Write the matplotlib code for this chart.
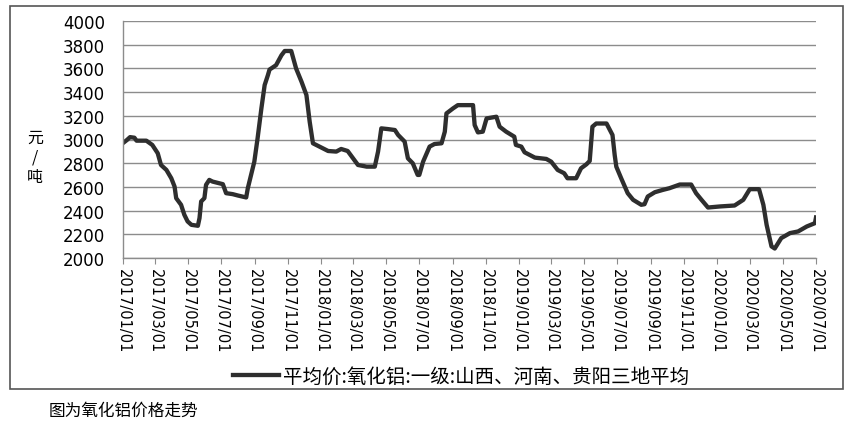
import numpy as np
import pandas as pd
import matplotlib
matplotlib.use("Agg")
import matplotlib.pyplot as plt
import matplotlib.dates as mdates
from matplotlib.patches import Rectangle

# 读图得到的数据点 (日期, 元/吨)
dates = [
    "2017-01-01", "2017-01-08", "2017-01-14", "2017-01-22", "2017-01-26", "2017-02-13",
    "2017-02-24", "2017-03-06", "2017-03-12", "2017-03-22", "2017-03-31", "2017-04-06",
    "2017-04-09", "2017-04-18", "2017-04-24", "2017-04-30", "2017-05-07", "2017-05-19",
    "2017-05-22", "2017-05-25", "2017-05-31", "2017-06-03", "2017-06-09", "2017-06-15",
    "2017-07-04", "2017-07-10", "2017-07-22", "2017-08-01", "2017-08-16", "2017-08-19",
    "2017-08-25", "2017-08-31", "2017-09-06", "2017-09-13", "2017-09-19", "2017-09-25",
    "2017-09-28", "2017-10-10", "2017-10-20", "2017-10-26", "2017-11-07", "2017-11-16",
    "2017-11-26", "2017-12-05", "2017-12-11", "2017-12-17", "2017-12-29", "2018-01-14",
    "2018-01-29", "2018-02-07", "2018-02-19", "2018-03-01", "2018-03-10", "2018-03-26",
    "2018-04-10", "2018-04-16", "2018-04-22", "2018-05-04", "2018-05-17", "2018-05-23",
    "2018-06-04", "2018-06-10", "2018-06-19", "2018-06-28", "2018-07-01", "2018-07-08",
    "2018-07-20", "2018-07-29", "2018-08-11", "2018-08-17", "2018-08-20", "2018-09-01",
    "2018-09-10", "2018-10-08", "2018-10-11", "2018-10-17", "2018-10-26", "2018-11-02",
    "2018-11-20", "2018-11-26", "2018-12-08", "2018-12-23", "2018-12-26", "2019-01-05",
    "2019-01-11", "2019-01-30", "2019-02-20", "2019-03-01", "2019-03-13", "2019-03-25",
    "2019-03-31", "2019-04-16", "2019-04-25", "2019-05-05", "2019-05-11", "2019-05-16",
    "2019-05-23", "2019-06-11", "2019-06-22", "2019-06-26", "2019-06-29", "2019-07-08",
    "2019-07-20", "2019-07-30", "2019-08-14", "2019-08-20", "2019-08-26", "2019-09-08",
    "2019-09-23", "2019-10-05", "2019-10-24", "2019-11-14", "2019-11-23", "2019-12-03",
    "2019-12-15", "2020-01-06", "2020-02-02", "2020-02-18", "2020-03-01", "2020-03-18",
    "2020-03-26", "2020-04-01", "2020-04-10", "2020-04-16", "2020-04-28", "2020-05-14",
    "2020-05-29", "2020-06-14", "2020-06-29", "2020-07-01",
]
prices = [
    2970, 2995, 3020, 3015, 2990, 2990,
    2954, 2884, 2785, 2743, 2673, 2603,
    2505, 2449, 2365, 2309, 2280, 2272,
    2337, 2477, 2505, 2617, 2659, 2645,
    2623, 2547, 2539, 2527, 2511, 2589,
    2701, 2813, 3010, 3262, 3459, 3543,
    3590, 3627, 3711, 3747, 3747, 3599,
    3487, 3375, 3150, 2968, 2940, 2903,
    2898, 2920, 2903, 2841, 2785, 2771,
    2771, 2898, 3094, 3088, 3080, 3038,
    2982, 2841, 2799, 2701, 2701, 2813,
    2940, 2962, 2968, 3066, 3220, 3262,
    3290, 3290, 3122, 3060, 3066, 3178,
    3192, 3108, 3066, 3024, 2954, 2940,
    2892, 2847, 2836, 2813, 2743, 2715,
    2673, 2673, 2757, 2791, 2819, 3108,
    3135, 3135, 3038, 2870, 2771, 2673,
    2547, 2491, 2449, 2454, 2519, 2555,
    2575, 2589, 2620, 2620, 2547, 2491,
    2426, 2435, 2443, 2491, 2581, 2581,
    2449, 2280, 2098, 2080, 2168, 2210,
    2224, 2266, 2294, 2342,
]
series_name = "平均价:氧化铝:一级:山西、河南、贵阳三地平均"
caption = "图为氧化铝价格走势"
y_ticks = [2000, 2200, 2400, 2600, 2800, 3000, 3200, 3400, 3600, 3800, 4000]

cjk = ["Noto Sans CJK SC", "DejaVu Sans"]

x = pd.to_datetime(dates)
fig = plt.figure(figsize=(8.54, 4.31), dpi=100)
ax = fig.add_axes([123 / 854, 1 - 259 / 431, 693 / 854, 237 / 431])

ax.plot(x, prices, color="#2e2e2e", lw=3.1, solid_joinstyle="round", label=series_name)

ax.set_ylim(2000, 4000)
ax.set_yticks(y_ticks)
ax.grid(axis="y", color="#8c8c8c", lw=1)
ax.set_axisbelow(True)

ticks = pd.date_range("2017-01-01", "2020-07-01", freq="2MS")
ax.set_xlim(ticks[0], ticks[-1])
ax.set_xticks(ticks)
ax.xaxis.set_major_formatter(mdates.DateFormatter("%Y/%m/%d"))
plt.setp(ax.get_xticklabels(), rotation=-90, ha="center", va="top", fontsize=10.5)
ax.tick_params(axis="x", direction="out", length=4, color="#8c8c8c", pad=3)
ax.tick_params(axis="y", length=0, pad=13, labelsize=12)

for s in ["top", "right"]:
    ax.spines[s].set_visible(False)
for s in ["left", "bottom"]:
    ax.spines[s].set_color("#8c8c8c")
    ax.spines[s].set_linewidth(1)

fig.text(35 / 854, 1 - 158 / 431, "元\n/\n吨", family=cjk, fontsize=11.5,
         ha="center", va="center", linespacing=1.2)

leg = ax.legend(loc="center", bbox_to_anchor=(461 / 854, 1 - 377 / 431),
                bbox_transform=fig.transFigure, frameon=False,
                prop={"family": cjk, "size": 14}, handlelength=2.4, handletextpad=0.2)

fig.patches.append(Rectangle((10 / 854, 1 - 390 / 431), 833 / 854, 383 / 431,
                             transform=fig.transFigure, fill=False, ec="#555555", lw=1.2))

fig.text(49 / 854, 1 - 411 / 431, caption, family=cjk, fontsize=12, ha="left", va="center")

fig.savefig("out.png", dpi=100)
